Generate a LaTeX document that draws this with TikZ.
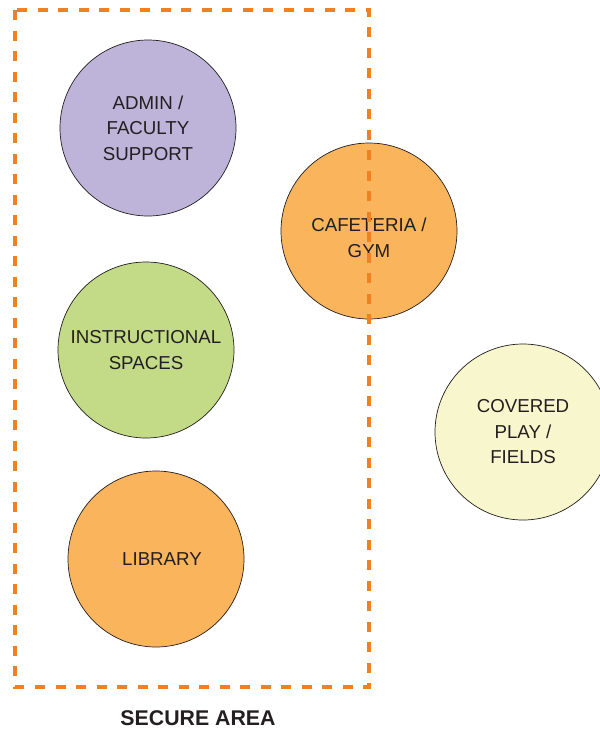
\documentclass[tikz,border=0pt]{standalone}
\usepackage{fontspec}
\setmainfont{Liberation Sans}
\usepackage{xcolor}
\usepackage{tikz}
\definecolor{admincol}{RGB}{190,179,216}
\definecolor{cafecol}{RGB}{250,180,92}
\definecolor{instrcol}{RGB}{195,218,135}
\definecolor{playcol}{RGB}{248,246,204}
\definecolor{securecol}{RGB}{241,128,35}
\definecolor{inkcol}{RGB}{35,31,32}

\begin{document}
\begin{tikzpicture}[x=1pt,y=-1pt]
\tikzstyle{every node}+=[inner sep=0pt, text=inkcol]
\tikzstyle{zone}=[circle, draw=inkcol, line width=0.7pt, minimum size=176pt, align=center, font=\fontsize{18.7}{25.5}\selectfont]
\tikzstyle{zonetext}=[align=center, font=\fontsize{18.7}{25.5}\selectfont]
\useasboundingbox (0,0) rectangle (600,732);
\node [zone, fill=admincol] (admin) at (148,128) {ADMIN /\\FACULTY\\SUPPORT};
\node [zone, fill=cafecol] (cafe) at (369,231) {};
\node [zonetext, yshift=-7pt] (cafetext) at (cafe.center) {CAFETERIA /\\GYM};
\node [zone, fill=instrcol] (instr) at (146,350) {INSTRUCTIONAL\\SPACES};
\node [zone, fill=cafecol] (library) at (156,559) {};
\node [zonetext, xshift=6pt] (librarytext) at (library.center) {LIBRARY};
\node [zone, fill=playcol] (play) at (523,432) {COVERED\\PLAY /\\FIELDS};
\draw [securecol, line width=4pt, dash pattern=on 10pt off 10.5pt] (15,10) rectangle (369,687);
\node [font=\fontsize{21.3}{24}\selectfont\bfseries] (secure) at (198,718) {SECURE AREA};
\end{tikzpicture}
\end{document}
